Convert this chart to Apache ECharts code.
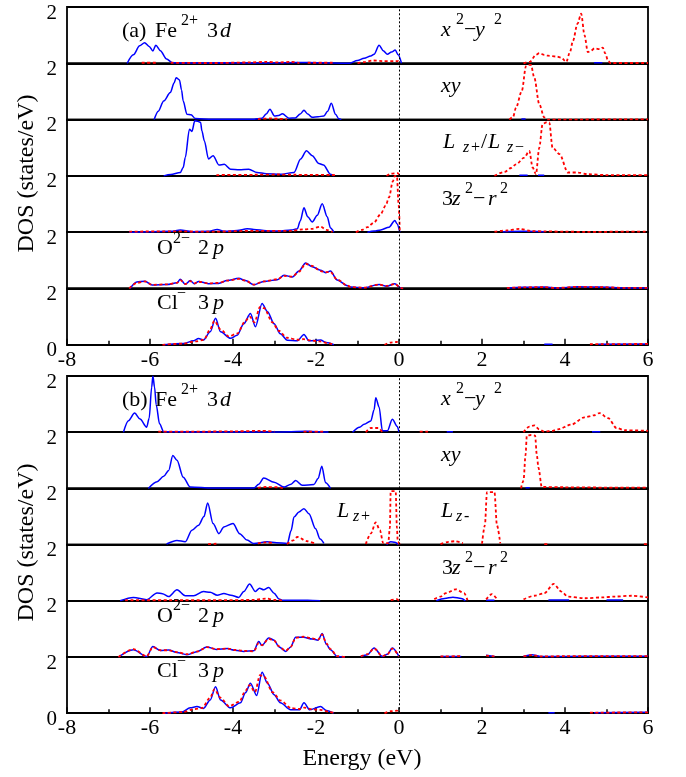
<!DOCTYPE html>
<html><head><meta charset="utf-8">
<script src="https://cdn.jsdelivr.net/npm/echarts@6/dist/echarts.min.js"></script>
<style>html,body{margin:0;padding:0;background:#fff}#c{width:686px;height:777px}</style>
</head><body><div id="c"></div>
<script>
// ---------- data (energy eV, DOS states/eV); null = gap ----------
const energyRange = [-8, 6];
const dosRange = [0, 2];

// Panel (a)
const a1Blue = [[-6.55,0],[-6.4,0.3],[-6.25,0.62],[-6.13,0.73],[-6.02,0.6],[-5.93,0.44],[-5.86,0.64],[-5.75,0.45],[-5.6,0.15],[-5.46,0.02],[-5.0,0.01],[-4.2,0.02],[-3.5,0.01],[-2.7,0.02],[-2.2,0.03],[-1.57,0.01],[-1.2,0],[-1.0,0.1],[-0.84,0.18],[-0.68,0.26],[-0.6,0.32],[-0.48,0.64],[-0.38,0.45],[-0.28,0.32],[-0.18,0.4],[-0.09,0.47],[-0.02,0.3],[0.06,0],null,[4.7,0.02],[4.9,0.02]];
const a1Red = [[-6.2,0.02],[-5.85,0.02],null,[-5.5,0.02],[-4.5,0.01],[-3.6,0.03],[-3.2,0.05],[-2.9,0.03],[-2.6,0.05],[-2.4,0.01],null,[-2.2,0.02],[-1.6,0.02],null,[-1.0,0],[-0.84,0.04],[-0.64,0.1],[-0.4,0.08],[-0.1,0.08],[-0.02,0.08],[0.02,0],null,[3.0,0],[3.15,0.05],[3.3,0.3],[3.38,0.36],[3.5,0.3],[3.59,0.27],[3.8,0.24],[3.91,0.2],[4.03,0.05],[4.12,0.4],[4.19,0.79],[4.3,1.4],[4.39,1.76],[4.47,1.0],[4.55,0.4],[4.63,0.45],[4.71,0.53],[4.85,0.5],[4.91,0.56],[4.97,0.35],[5.04,0.08],[5.1,0.01],[6.0,0.01]];
const a2Blue = [[-5.9,0],[-5.8,0.3],[-5.67,0.66],[-5.51,0.96],[-5.42,1.3],[-5.37,1.49],[-5.29,1.41],[-5.24,1.05],[-5.2,0.66],[-5.11,0.19],[-5.01,0.17],[-4.91,0.04],[-4.5,0.01],[-3.5,0.01],[-3.42,0.03],[-3.3,0.05],[-3.2,0.2],[-3.11,0.37],[-3.0,0.13],[-2.9,0.15],[-2.81,0.21],[-2.65,0.05],[-2.5,0.06],[-2.38,0.2],[-2.29,0.33],[-2.2,0.2],[-2.09,0.08],[-1.95,0.1],[-1.81,0.13],[-1.72,0.3],[-1.63,0.58],[-1.53,0.19],[-1.45,0.03],[-1.39,0],null,[2.95,0.02],[3.05,0.02]];
const a2Red = [[-3.4,0.02],[-3.1,0.04],[-2.9,0.03],[-2.7,0.01],null,[2.66,0],[2.75,0.1],[2.82,0.43],[2.96,1.02],[3.06,1.9],[3.12,1.95],[3.18,1.94],[3.26,1.49],[3.38,0.55],[3.5,0.08],[3.58,0],[6.0,0.01]];
const a3Blue = [[-5.67,0],[-5.5,0.05],[-5.27,0.12],[-5.2,0.3],[-5.15,0.65],[-5.05,1.66],[-4.99,1.58],[-4.92,1.96],[-4.85,1.94],[-4.78,1.9],[-4.75,1.6],[-4.69,1.24],[-4.59,0.6],[-4.48,0.72],[-4.34,0.39],[-4.21,0.41],[-4.06,0.24],[-3.85,0.22],[-3.62,0.24],[-3.42,0.12],[-3.2,0.08],[-2.86,0.06],[-2.53,0.12],[-2.37,0.6],[-2.23,0.89],[-2.09,0.72],[-1.93,0.44],[-1.82,0.39],[-1.65,0.06],[-1.57,0],null,[2.9,0.02],[3.1,0.02],null,[3.35,0.02],[3.5,0.02]];
const a3Red = [[-4.4,0.03],[-3.5,0.04],[-2.9,0.05],[-2.5,0.04],[-1.5,0.03],null,[-0.3,0],[-0.2,0.08],[-0.03,0.1],[0.02,0],null,[2.3,0],[2.54,0.14],[2.7,0.28],[2.82,0.41],[3.02,0.65],[3.14,0.89],[3.22,0.3],[3.3,0.06],[3.38,1.0],[3.46,1.84],[3.55,1.9],[3.62,1.9],[3.7,1.0],[3.87,0.77],[4.07,0.12],[4.31,0.12],[4.55,0.06],[5.0,0.03],[6.0,0.03]];
const a4Blue = [[-6.5,0],[-6.0,0.02],[-5.5,0.03],[-5.27,0.08],[-5.0,0.02],[-4.6,0.03],[-4.38,0.1],[-4.2,0.03],[-3.9,0.06],[-3.66,0.12],[-3.5,0.1],[-3.2,0.05],[-2.9,0.04],[-2.6,0.08],[-2.45,0.12],[-2.38,0.4],[-2.29,0.87],[-2.2,0.55],[-2.09,0.36],[-1.97,0.6],[-1.85,1.01],[-1.73,0.55],[-1.65,0.15],[-1.57,0],null,[-0.76,0],[-0.6,0.04],[-0.44,0.08],[-0.24,0.18],[-0.1,0.42],[-0.05,0.3],[0.02,0],null,[2.5,0.02],[3.0,0.03],[3.5,0.02]];
const a4Red = [[-6.5,0.02],[-5.5,0.03],[-4.5,0.02],[-3.5,0.05],[-2.6,0.05],[-2.3,0.1],[-2.1,0.12],[-1.89,0.2],[-1.75,0.08],[-1.6,0.01],null,[-1.04,0],[-0.9,0.08],[-0.76,0.18],[-0.6,0.35],[-0.44,0.65],[-0.32,0.95],[-0.24,1.24],[-0.15,1.8],[-0.1,2.0],[-0.05,2.0],[-0.01,1.0],[0.02,0],null,[2.3,0.02],[2.6,0.06],[2.9,0.12],[3.2,0.04],[3.5,0.03],[4.0,0.02],[4.5,0.01],[5.5,0.02],[6,0.02]];
const a5Blue = [[-6.48,0],[-6.32,0.23],[-6.12,0.26],[-5.95,0.12],[-5.59,0.14],[-5.35,0.2],[-5.27,0.33],[-5.15,0.15],[-5.03,0.28],[-4.93,0.17],[-4.83,0.25],[-4.59,0.17],[-4.35,0.18],[-4.14,0.28],[-3.86,0.36],[-3.7,0.28],[-3.5,0.13],[-3.26,0.25],[-2.93,0.31],[-2.77,0.47],[-2.57,0.41],[-2.41,0.62],[-2.25,0.91],[-2.09,0.77],[-1.89,0.65],[-1.77,0.56],[-1.65,0.62],[-1.49,0.3],[-1.24,0.1],[-1.16,0.05],[-0.85,0.03],[-0.48,0.14],[-0.3,0.08],[-0.1,0.17],[0.04,0.02],[0.1,0],null,[2.6,0.02],[3.0,0.04],[3.5,0.05],[3.8,0.02],[4.3,0.06],[4.8,0.05],[5.5,0.02],[6,0.02]];
const a5Red = [[-6.5,0],[-6.32,0.2],[-6.12,0.25],[-5.95,0.13],[-5.59,0.15],[-5.35,0.2],[-5.27,0.3],[-5.15,0.16],[-5.03,0.26],[-4.93,0.18],[-4.83,0.24],[-4.59,0.18],[-4.35,0.2],[-4.14,0.28],[-3.86,0.34],[-3.7,0.28],[-3.5,0.14],[-3.26,0.25],[-2.93,0.33],[-2.77,0.45],[-2.57,0.42],[-2.41,0.6],[-2.25,0.88],[-2.09,0.8],[-1.89,0.62],[-1.77,0.58],[-1.65,0.58],[-1.49,0.32],[-1.24,0.1],[-1.16,0.05],[-0.85,0.03],[-0.48,0.14],[-0.3,0.09],[-0.1,0.16],[0.04,0.02],[0.1,0],null,[2.6,0.02],[3.0,0.04],[3.5,0.05],[3.8,0.02],[4.3,0.06],[4.8,0.05],[5.5,0.02],[6,0.02]];
const a6Blue = [[-5.67,0],[-5.19,0.05],[-4.95,0.14],[-4.83,0.22],[-4.71,0.17],[-4.55,0.46],[-4.42,0.94],[-4.3,0.46],[-4.06,0.23],[-3.9,0.34],[-3.74,0.75],[-3.58,1.11],[-3.46,0.64],[-3.3,1.47],[-3.17,1.18],[-3.01,0.75],[-2.86,0.39],[-2.69,0.16],[-2.45,0.14],[-2.29,0.37],[-2.17,0.14],[-1.89,0.17],[-1.75,0.08],[-1.57,0],null,[3.5,0.02],[3.7,0.02],null,[4.8,0.02],[6,0.03]];
const a6Red = [[-5.7,0],[-5.2,0.04],[-4.9,0.12],[-4.7,0.18],[-4.55,0.55],[-4.45,0.85],[-4.3,0.55],[-4.1,0.3],[-3.9,0.4],[-3.7,0.85],[-3.6,1.0],[-3.48,0.8],[-3.35,1.35],[-3.25,1.3],[-3.05,0.8],[-2.9,0.5],[-2.7,0.25],[-2.45,0.18],[-2.3,0.2],[-2.1,0.15],[-1.9,0.12],[-1.7,0.05],[-1.55,0],null,[-0.35,0],[-0.2,0.08],[-0.05,0.1],[0.02,0],null,[4.6,0.02],[6,0.03]];

// Panel (b)
const b1Blue = [[-6.64,0],[-6.52,0.41],[-6.37,0.68],[-6.24,0.47],[-6.08,0.18],[-6.02,0.5],[-5.96,1.6],[-5.93,2.0],[-5.89,1.6],[-5.85,0.97],[-5.77,0.3],[-5.67,0.02],[-5.0,0.01],[-3.0,0.01],[-2.2,0.03],[-2.0,0.02],[-1.7,0.01],null,[-1.12,0],[-0.95,0.18],[-0.84,0.28],[-0.68,0.4],[-0.6,0.8],[-0.56,1.23],[-0.48,0.9],[-0.4,0.05],[-0.28,0.05],[-0.16,0.46],[-0.04,0.2],[0.0,0],null,[1.15,0.02],[1.3,0.02],null,[4.65,0.02],[4.85,0.02]];
const b1Red = [[-5.8,0.02],[-5.0,0.02],[-4.0,0.03],[-3.3,0.05],[-3.0,0.02],null,[-2.3,0.02],[-1.8,0.02],null,[-0.8,0],[-0.68,0.15],[-0.5,0.15],[-0.4,0],null,[0.5,0.02],[0.7,0.02],null,[3.0,0],[3.14,0.2],[3.26,0.24],[3.38,0.1],[3.5,0.02],[3.7,0.05],[3.83,0.1],[4.15,0.27],[4.47,0.53],[4.7,0.6],[4.83,0.68],[5.04,0.5],[5.24,0.15],[5.44,0.07],[6.0,0.05]];
const b2Blue = [[-6.04,0],[-5.83,0.24],[-5.67,0.43],[-5.55,0.64],[-5.45,1.17],[-5.35,1.0],[-5.2,0.4],[-5.03,0.05],[-4.5,0.01],[-3.5,0.01],[-3.38,0.15],[-3.26,0.37],[-3.01,0.22],[-2.77,0.05],[-2.6,0.15],[-2.49,0.28],[-2.33,0.11],[-2.05,0.14],[-1.95,0.35],[-1.86,0.79],[-1.77,0.2],[-1.65,0],null,[3.05,0.02],[3.15,0.02]];
const b2Red = [[-3.4,0.02],[-3.2,0.05],[-2.9,0.04],[-2.8,0],null,[2.94,0],[3.0,0.28],[3.05,1.2],[3.08,1.88],[3.18,1.9],[3.28,1.88],[3.32,1.2],[3.36,0.74],[3.44,0.05],[4.0,0.04],[5,0.03],[6,0.03]];
const b3Blue = [[-5.6,0.02],[-5.35,0.15],[-5.15,0.1],[-4.99,0.51],[-4.83,0.69],[-4.7,1.0],[-4.61,1.48],[-4.48,0.75],[-4.34,0.39],[-4.22,0.63],[-4.0,0.75],[-3.84,0.39],[-3.66,0.16],[-3.5,0.04],[-3.18,0.1],[-2.95,0.07],[-2.69,0.04],[-2.6,0.5],[-2.53,0.98],[-2.41,1.16],[-2.29,1.28],[-2.17,1.1],[-2.01,0.56],[-1.9,0.2],[-1.81,0.04],null,[-0.3,0],[-0.2,0.1],[-0.1,0.08],[-0.02,0]];
const b3Red = [[-4.6,0.02],[-4.4,0.03],null,[-3.4,0.04],[-3.2,0.08],[-3.0,0.05],null,[-2.7,0.02],[-2.55,0.15],[-2.45,0.27],[-2.21,0.12],[-2.0,0.02],null,[-0.8,0.02],[-0.68,0.39],[-0.56,0.79],[-0.46,0.51],[-0.38,0.05],[-0.26,0.05],[-0.22,0.6],[-0.2,1.9],[-0.08,1.9],[-0.05,0.6],[-0.03,0.1],[0.02,0],null,[1.0,0.02],[1.2,0.1],[1.34,0.12],[1.54,0.05],null,[2.0,0.03],[2.07,0.69],[2.12,1.87],[2.3,1.87],[2.36,0.69],[2.44,0.04],null,[3.5,0.02],[3.6,0.02],null,[5.9,0.02],[6,0.02]];
const b4Blue = [[-6.72,0],[-6.4,0.12],[-6.08,0.04],[-5.83,0.28],[-5.7,0.25],[-5.55,0.15],[-5.35,0.39],[-5.15,0.18],[-4.95,0.18],[-4.71,0.33],[-4.55,0.3],[-4.38,0.2],[-4.22,0.26],[-4.05,0.2],[-3.86,0.12],[-3.74,0.33],[-3.6,0.6],[-3.46,0.33],[-3.36,0.45],[-3.26,0.39],[-3.14,0.47],[-3.01,0.27],[-2.89,0.06],[-2.8,0.02],[-2.2,0.02],[-1.9,0],null,[0.9,0],[1.1,0.08],[1.3,0.13],[1.5,0.08],[1.6,0],null,[2.1,0.02],[2.3,0.02],null,[3.6,0.03],[4.1,0.03],null,[5.0,0.03],[5.4,0.03]];
const b4Red = [[-6.6,0.02],[-5.5,0.02],[-4.5,0.02],[-3.5,0.03],[-3.2,0.08],[-3.0,0.03],[-2.8,0.01],null,[-0.2,0.02],[-0.05,0.06],[0.0,0],null,[0.85,0.06],[1.0,0.15],[1.13,0.27],[1.37,0.41],[1.57,0.27],[1.65,0.02],null,[2.1,0.05],[2.24,0.24],[2.38,0.02],null,[3.0,0.05],[3.26,0.18],[3.5,0.27],[3.73,0.6],[3.91,0.33],[4.07,0.15],[4.47,0.09],[4.9,0.12],[5.2,0.15],[5.6,0.18],[6.0,0.12]];
const b5Blue = [[-6.76,0],[-6.4,0.26],[-6.08,0.02],[-5.93,0.37],[-5.75,0.23],[-5.55,0.25],[-5.35,0.16],[-5.11,0.08],[-4.85,0.2],[-4.63,0.36],[-4.4,0.27],[-4.14,0.3],[-3.95,0.24],[-3.74,0.2],[-3.5,0.22],[-3.38,0.55],[-3.3,0.41],[-3.14,0.68],[-3.01,0.6],[-2.89,0.36],[-2.73,0.2],[-2.61,0.36],[-2.49,0.7],[-2.3,0.7],[-2.09,0.64],[-1.95,0.6],[-1.85,0.84],[-1.75,0.45],[-1.65,0.26],[-1.49,0.02],[-1.3,0],null,[-0.92,0.02],[-0.76,0.08],[-0.6,0.32],[-0.4,0.02],[-0.28,0.1],[-0.16,0.32],[0.0,0.02],null,[1.0,0.02],[1.5,0.02],null,[2.1,0.06],[2.3,0.02],null,[3.0,0.02],[3.2,0.08],[3.4,0.02],[4.0,0.02],[5.0,0.03],[6.0,0.03]];
const b5Red = [[-6.76,0],[-6.4,0.28],[-6.08,0.03],[-5.93,0.35],[-5.75,0.24],[-5.55,0.24],[-5.35,0.17],[-5.11,0.1],[-4.85,0.2],[-4.63,0.35],[-4.4,0.28],[-4.14,0.3],[-3.95,0.25],[-3.74,0.22],[-3.5,0.2],[-3.38,0.5],[-3.3,0.42],[-3.14,0.65],[-3.01,0.58],[-2.89,0.38],[-2.73,0.22],[-2.61,0.36],[-2.49,0.68],[-2.3,0.72],[-2.09,0.66],[-1.95,0.62],[-1.85,0.8],[-1.75,0.48],[-1.65,0.28],[-1.49,0.03],[-1.3,0],null,[-0.92,0.02],[-0.76,0.1],[-0.6,0.3],[-0.4,0.03],[-0.28,0.1],[-0.16,0.3],[0.0,0.02],null,[1.0,0.02],[1.5,0.03],null,[2.1,0.05],[2.3,0.02],null,[3.0,0.02],[3.2,0.07],[3.4,0.02],[4.0,0.03],[5.0,0.03],[6.0,0.03]];
const b6Blue = [[-5.67,0],[-5.23,0.04],[-5.03,0.19],[-4.87,0.24],[-4.71,0.17],[-4.55,0.47],[-4.42,0.94],[-4.3,0.47],[-4.06,0.19],[-3.82,0.37],[-3.7,0.73],[-3.58,1.07],[-3.43,0.63],[-3.3,1.46],[-3.17,1.07],[-3.01,0.66],[-2.86,0.37],[-2.61,0.12],[-2.4,0.12],[-2.29,0.37],[-2.15,0.12],[-1.89,0.24],[-1.75,0.1],[-1.57,0],null,[3.6,0.02],[3.75,0.02],null,[4.7,0.02],[6,0.03]];
const b6Red = [[-5.7,0],[-5.2,0.04],[-4.95,0.14],[-4.75,0.18],[-4.55,0.55],[-4.45,0.85],[-4.3,0.55],[-4.1,0.25],[-3.85,0.4],[-3.7,0.8],[-3.6,1.0],[-3.47,0.75],[-3.35,1.35],[-3.25,1.3],[-3.05,0.75],[-2.85,0.45],[-2.6,0.18],[-2.4,0.15],[-2.28,0.2],[-2.1,0.14],[-1.9,0.12],[-1.7,0.06],[-1.55,0],null,[-0.35,0],[-0.2,0.07],[-0.05,0.09],[0.02,0],null,[4.6,0.02],[6,0.03]];

const panelA = [[a1Blue,a1Red],[a2Blue,a2Red],[a3Blue,a3Red],[a4Blue,a4Red],[a5Blue,a5Red],[a6Blue,a6Red]];
const panelB = [[b1Blue,b1Red],[b2Blue,b2Red],[b3Blue,b3Red],[b4Blue,b4Red],[b5Blue,b5Red],[b6Blue,b6Red]];

// ---------- layout ----------
const FONT = '"Liberation Serif", "Times New Roman", serif';
const L = 67, W = 581;
const panels = [
  {rows: panelA, top: 7, h: 56.3},
  {rows: panelB, top: 376, h: 56.2}
];

function toData(arr){
  const out = []; let last = null;
  for (const p of arr){
    if (p === null){ out.push([last[0] + 0.0001, '-']); }
    else { out.push(p); last = p; }
  }
  return out;
}

const grid = [], xAxis = [], yAxis = [], series = [];
panels.forEach((pn, pi) => {
  pn.rows.forEach((row, ri) => {
    const idx = grid.length;
    const bottomRow = ri === pn.rows.length - 1;
    grid.push({left: L, width: W, top: pn.top + ri * pn.h, height: pn.h,
      show: true, borderColor: '#000', borderWidth: 1.8, backgroundColor: 'transparent'});
    xAxis.push({type: 'value', gridIndex: idx, min: energyRange[0], max: energyRange[1], interval: 2,
      axisLine: {show: true, lineStyle: {color: '#000', width: 1.8}},
      splitLine: {show: false},
      axisTick: {show: bottomRow, inside: true, length: 6, lineStyle: {color: '#000', width: 1.5}},
      minorTick: {show: bottomRow, splitNumber: 2, length: 4, lineStyle: {color: '#000', width: 1.5}},
      axisLabel: {show: bottomRow, color: '#000', fontFamily: FONT, fontSize: 22, margin: 4}
    });
    yAxis.push({type: 'value', gridIndex: idx, min: dosRange[0], max: dosRange[1], interval: 2,
      axisLine: {show: false}, axisTick: {show: false}, splitLine: {show: false},
      axisLabel: {show: true, showMinLabel: bottomRow, showMaxLabel: true, color: '#000',
        fontFamily: FONT, fontSize: 21, margin: 10, verticalAlign: 'top', lineHeight: 12}
    });
    series.push({type: 'line', xAxisIndex: idx, yAxisIndex: idx, data: toData(row[0]),
      showSymbol: false, symbol: 'none', smooth: 0.3, smoothMonotone: 'x', connectNulls: false,
      lineStyle: {color: '#0000ff', width: 1.5}, z: 3});
    series.push({type: 'line', xAxisIndex: idx, yAxisIndex: idx, data: toData(row[1]),
      showSymbol: false, symbol: 'none', smooth: 0.3, smoothMonotone: 'x', connectNulls: false,
      lineStyle: {color: '#ff0000', width: 1.8, type: [3, 2.5]}, z: 4,
      markLine: {silent: true, symbol: ['none', 'none'], label: {show: false}, animation: false,
        lineStyle: {color: '#000', type: [2, 2], width: 1}, data: [{xAxis: 0}]}});
  });
});

// ---------- text annotations ----------
const MF = 22, SS = 16, SUP = -12, SUB = 4;
function txt(x, baseY, t, fs, italic, dy){
  fs = fs || MF; dy = dy || 0;
  return {type: 'text', x: x, y: baseY + dy - 0.34 * fs, silent: true, z: 100,
    style: {text: t, fill: '#000', fontFamily: FONT, fontSize: fs, fontStyle: italic ? 'italic' : 'normal',
      textAlign: 'left', textVerticalAlign: 'middle', verticalAlign: 'middle'}};
}
function labelsFor(p, off){
  const g = [];
  const b1 = off + 31.3;
  g.push(txt(122, b1, p), txt(155, b1, 'Fe'), txt(181, b1, '2+', SS, false, SUP),
         txt(207, b1, '3'), txt(220, b1, 'd', MF, true));
  const b2 = off + 30.3;
  g.push(txt(441, b2, 'x', MF, true), txt(456, b2, '2', SS, false, SUP),
         txt(464, b2, '\u2212'), txt(475, b2, 'y', MF, true), txt(494, b2, '2', SS, false, SUP));
  g.push(txt(441, off + 87, 'xy', MF, true));
  return g;
}
const graphic = [];
graphic.push(...labelsFor('(a)', 7));
graphic.push(...labelsFor('(b)', 376));
// panel a Lz+/Lz-
graphic.push(txt(443, 149.3, 'L', MF, true), txt(463, 149.3, 'z', SS, true, SUB), txt(471, 149.3, '+', SS, false, SUB),
  txt(481, 149.3, '/'), txt(488, 149.3, 'L', MF, true), txt(507, 149.3, 'z', SS, true, SUB), txt(515, 149.3, '\u2212', SS, false, SUB));
// panel b Lz+ and Lz-
graphic.push(txt(337, 518.3, 'L', MF, true), txt(353, 518.3, 'z', SS, true, SUB), txt(361, 518.3, '+', SS, false, SUB),
  txt(441, 518.3, 'L', MF, true), txt(456, 518.3, 'z', SS, true, SUB), txt(464, 518.3, '-', SS, false, SUB));
// 3z2-r2
[206.7, 575.5].forEach(b => {
  graphic.push(txt(442, b, '3'), txt(452, b, 'z', MF, true), txt(465, b, '2', SS, false, SUP),
    txt(473, b, '\u2212'), txt(488, b, 'r', MF, true), txt(500, b, '2', SS, false, SUP));
});
// O2- 2p
[256, 623.3].forEach(b => {
  graphic.push(txt(157, b, 'O'), txt(173, b, '2\u2212', SS, false, SUP), txt(198, b, '2'), txt(213, b, 'p', MF, true));
});
// Cl- 3p
[311, 679].forEach(b => {
  graphic.push(txt(157, b, 'Cl'), txt(177, b, '\u2212', SS, false, SUP), txt(198, b, '3'), txt(213, b, 'p', MF, true));
});
// axis names
[173.5, 542.5].forEach(cy => {
  graphic.push({type: 'text', x: 27, y: cy, rotation: Math.PI / 2, silent: true, z: 100,
    style: {text: 'DOS (states/eV)', fill: '#000', fontFamily: FONT, fontSize: 24,
      textAlign: 'center', textVerticalAlign: 'middle', verticalAlign: 'middle', align: 'center'}});
});
graphic.push({type: 'text', x: 362, y: 759, silent: true, z: 100,
  style: {text: 'Energy (eV)', fill: '#000', fontFamily: FONT, fontSize: 24,
    textAlign: 'center', textVerticalAlign: 'middle', verticalAlign: 'middle', align: 'center'}});

const chart = echarts.init(document.getElementById('c'), null, {renderer: 'canvas'});
chart.setOption({animation: false, backgroundColor: '#fff', grid, xAxis, yAxis, series, graphic});
</script></body></html>
